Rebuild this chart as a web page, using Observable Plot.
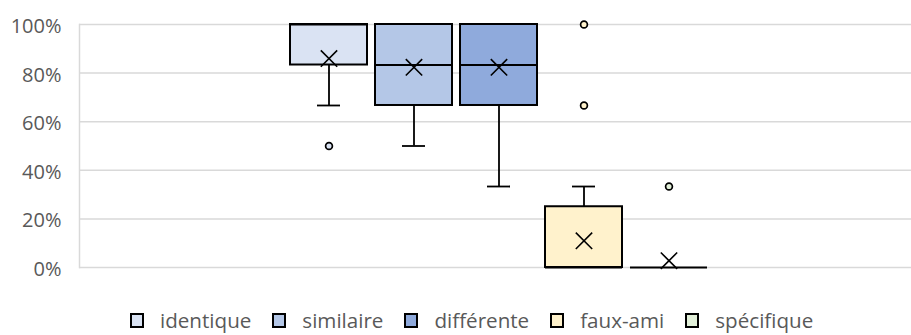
<!DOCTYPE html>
<html>
<head>
<meta charset="utf-8">
<script src="https://cdn.jsdelivr.net/npm/d3@7"></script>
<script src="https://cdn.jsdelivr.net/npm/@observablehq/plot@0.6"></script>
<style>
  html, body { margin: 0; padding: 0; background: #fff; }
  #chart { width: 911px; height: 335px; overflow: hidden; font-family: "Open Sans", sans-serif; }
  .legend { display: flex; justify-content: flex-start; align-items: center; height: 30px; margin-top: 9px; padding-left: 130px;
            font-family: "Open Sans", sans-serif; font-size: 20.6px; color: #595959; }
  .legend .item { display: flex; align-items: center; margin-right: 21px; }
  .legend .sw { box-sizing: border-box; width: 14px; height: 15px; border: 2px solid #000; margin-right: 16px; }
</style>
</head>
<body>
<div id="chart"></div>
<script>
const series = ["identique", "similaire", "différente", "faux-ami", "spécifique"];
const colors = ["#DAE3F3", "#B4C7E7", "#8FAADC", "#FFF2CC", "#E2F0D9"];
const q1 = [0.8333, 0.6667, 0.6667, 0, 0];
const median = [1, 0.8333, 0.8333, 0, 0];
const q3 = [1, 1, 1, 0.25, 0];
const whiskerLow = [0.6667, 0.5, 0.3333, 0, 0];
const whiskerHigh = [1, 1, 1, 0.3333, 0];
const mean = [0.86, 0.824, 0.824, 0.11, 0.028];
const outlierSeries = ["identique", "faux-ami", "faux-ami", "spécifique"];
const outlierValues = [0.5, 1, 0.6667, 0.3333];
const yTicks = [0, 0.2, 0.4, 0.6, 0.8, 1];

const boxes = series.map((s, i) => ({
  s, q1: q1[i], median: median[i], q3: q3[i], lo: whiskerLow[i], hi: whiskerHigh[i], mean: mean[i]
}));
const lowW = boxes.filter(d => d.lo < d.q1);
const highW = boxes.filter(d => d.hi > d.q3);
const outliers = outlierSeries.map((s, i) => ({ s, v: outlierValues[i] }));

const plot = Plot.plot({
  width: 911,
  height: 296,
  marginLeft: 79,
  marginRight: 0,
  marginTop: 24,
  marginBottom: 29,
  style: { fontFamily: "Open Sans, sans-serif", fontSize: "20px", color: "#595959", background: "#fff", overflow: "visible" },
  x: { domain: series, range: [286, 711], paddingInner: 0.1, paddingOuter: 0.05, axis: null },
  y: { domain: [0, 1], label: null, axis: null },
  color: { domain: series, range: colors },
  marks: [
    Plot.gridY(yTicks, { stroke: "#d9d9d9", strokeOpacity: 1, strokeWidth: 1.5 }),
    Plot.frame({ anchor: "left", stroke: "#d9d9d9", strokeWidth: 1.5 }),
    Plot.axisY(yTicks, { tickFormat: d3.format(".0%"), tickSize: 0, tickPadding: 18, dy: 2, fill: "#595959", fontSize: 20, label: null }),
    Plot.ruleX(lowW, { x: "s", y1: "lo", y2: "q1", stroke: "#000", strokeWidth: 1.8 }),
    Plot.ruleX(highW, { x: "s", y1: "q3", y2: "hi", stroke: "#000", strokeWidth: 1.8 }),
    Plot.tickY(lowW, { x: "s", y: "lo", stroke: "#000", strokeWidth: 1.8, insetLeft: 27, insetRight: 27 }),
    Plot.tickY(highW, { x: "s", y: "hi", stroke: "#000", strokeWidth: 1.8, insetLeft: 27, insetRight: 27 }),
    Plot.barY(boxes, { x: "s", y1: "q1", y2: "q3", fill: "s", stroke: "#000", strokeWidth: 2 }),
    Plot.tickY(boxes, { x: "s", y: "median", stroke: "#000", strokeWidth: 2 }),
    Plot.dot(boxes, { x: "s", y: "mean", symbol: "times", r: 7.5, stroke: "#000", strokeWidth: 1.6 }),
    Plot.dot(outliers, { x: "s", y: "v", r: 3.4, fill: "s", stroke: "#000", strokeWidth: 1.7 })
  ]
});

const chart = document.getElementById("chart");
chart.appendChild(plot);

const legend = document.createElement("div");
legend.className = "legend";
series.forEach((s, i) => {
  const item = document.createElement("div");
  item.className = "item";
  const sw = document.createElement("span");
  sw.className = "sw";
  sw.style.background = colors[i];
  const t = document.createElement("span");
  t.textContent = s;
  item.appendChild(sw);
  item.appendChild(t);
  legend.appendChild(item);
});
chart.appendChild(legend);
</script>
</body>
</html>
